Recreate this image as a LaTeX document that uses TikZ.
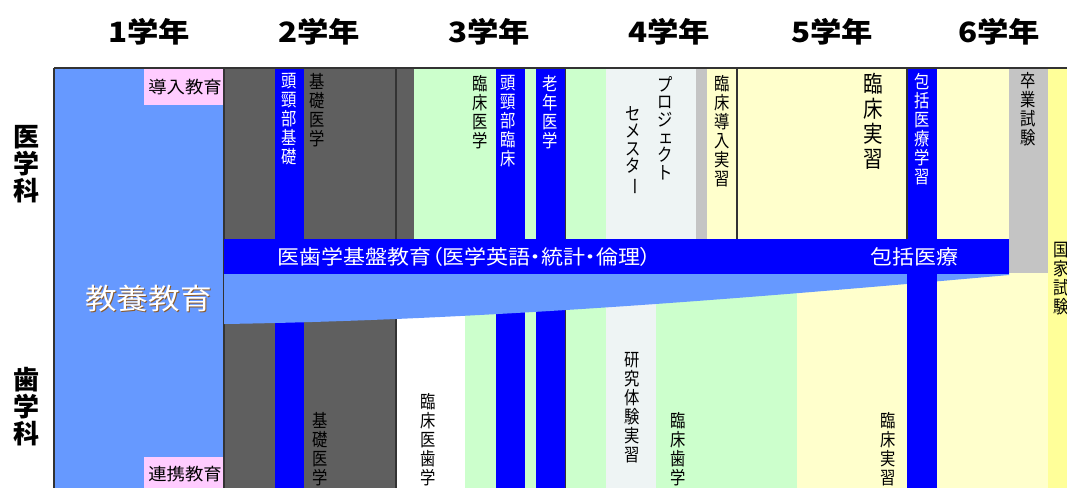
\documentclass[tikz,border=0pt]{standalone}
\usepackage{fontspec}
\usepackage{graphicx}
\setmainfont{Noto Sans CJK JP}
\newfontfamily\jpp[RawFeature=+palt]{Noto Sans CJK JP}
\newcommand{\choonv}{\rotatebox[origin=c]{-90}{ー}}
\newcommand{\smallev}{\hspace{3pt}ェ}
\newcommand{\vlab}[4]{\begin{scope}[shift={(#2)}]\node[#1, xscale=0.85, transform shape] (#3) at (0,0) {#4};\end{scope}}
\definecolor{lblue}{HTML}{6699FF}
\definecolor{pinkc}{HTML}{FFCCFF}
\definecolor{dgray}{HTML}{5F5F5F}
\definecolor{bblue}{HTML}{0000FF}
\definecolor{lgreen}{HTML}{CCFFCC}
\definecolor{pgray}{HTML}{EEF4F4}
\definecolor{mgray}{HTML}{C4C4C4}
\definecolor{lyellow}{HTML}{FFFFCC}
\definecolor{yellowc}{HTML}{FFFF99}
\definecolor{shadowc}{HTML}{8B5A2B}
\definecolor{linec}{HTML}{333333}
\tikzset{
  vt/.style={anchor=north, align=center, inner sep=0pt, font=\fontsize{18}{19}\selectfont},
  vtw/.style={vt, text=white},
  vtk/.style={vt, font=\fontsize{18}{17.6}\selectfont},
  vtbig/.style={vt, font=\fontsize{23}{25}\selectfont},
  hlab/.style={inner sep=0pt, font=\fontsize{17}{18}\selectfont},
  hdr/.style={inner sep=0pt, font=\fontsize{28}{30}\selectfont\bfseries},
  dept/.style={anchor=north, align=center, inner sep=0pt, font=\fontsize{26}{27}\selectfont\bfseries},
  frame/.style={draw=linec, line width=1.5pt},
  sep/.style={draw=linec, line width=1.6pt},
}
\begin{document}
\begin{tikzpicture}[x=1pt,y=-1pt]
\useasboundingbox (0,0) rectangle (1067,488);
\clip (0,0) rectangle (1067,488);
\fill[white] (0,0) rectangle (1067,488);
% left block
\fill[lblue] (54,68) rectangle (224,488);
% upper columns
\fill[dgray] (224,68) rectangle (414,290);
\fill[bblue] (275,68) rectangle (304,290);
\fill[lgreen] (414,68) rectangle (606,290);
\fill[bblue] (496,68) rectangle (525,290);
\fill[bblue] (536,68) rectangle (565,290);
\fill[pgray] (606,68) rectangle (696,290);
\fill[mgray] (696,68) rectangle (707,290);
\fill[lyellow] (707,68) rectangle (1009,290);
\fill[mgray] (1009,68) rectangle (1048,273);
% lower columns
\fill[dgray] (224,290) rectangle (396,488);
\fill[bblue] (275,290) rectangle (304,488);
\fill[white] (396,290) rectangle (465,488);
\fill[lgreen] (465,290) rectangle (606,488);
\fill[bblue] (496,290) rectangle (525,488);
\fill[bblue] (536,290) rectangle (565,488);
\fill[pgray] (606,290) rectangle (656,488);
\fill[lgreen] (656,290) rectangle (797,488);
\fill[lyellow] (797,290) rectangle (1009,488);
\fill[lyellow] (1009,273) rectangle (1048,488);
\fill[yellowc] (1048,68) rectangle (1067,488);
% pink boxes
\fill[pinkc] (144,68) rectangle (224,105);
\fill[pinkc] (144,457) rectangle (224,488);
% separators
\draw[sep] (224,68) -- (224,488);
\draw[sep] (396,68) -- (396,488);
\draw[sep] (565.5,68) -- (565.5,488);
\draw[sep] (737,68) -- (737,239);
% wedge of 教養教育
\fill[lblue] (224,239) -- (1009,239) -- (1009,275)
  .. controls (750,298) and (486,320) .. (224,324) -- cycle;
% 包括医療 stripe and band
\fill[bblue] (907,68) rectangle (937,488);
\draw[sep] (907,68) -- (907,239);
\fill[bblue] (224,239) rectangle (1009,274);
% frame
\draw[frame] (54,68) -- (1067,68);
\draw[frame] (54,68) -- (54,488);
% headers
\node[hdr] (y1) at (149,32) {\scalebox{1.12}[1]{1学年}};
\node[hdr] (y2) at (319,32) {\scalebox{1.12}[1]{2学年}};
\node[hdr] (y3) at (489,32) {\scalebox{1.12}[1]{3学年}};
\node[hdr] (y4) at (669,32) {\scalebox{1.12}[1]{4学年}};
\node[hdr] (y5) at (832,32) {\scalebox{1.12}[1]{5学年}};
\node[hdr] (y6) at (999,32) {\scalebox{1.12}[1]{6学年}};
\node[dept] (med) at (26,125) {医\\学\\科};
\node[dept] (dent) at (26,367) {歯\\学\\科};
% upper texts
\node[hlab] (dounyu) at (185,87) {\scalebox{1.08}[1]{導入教育}};
\vlab{vtw}{289,73}{tkb}{頭\\頸\\部\\基\\礎}
\vlab{vt}{317,73}{kiso1}{基\\礎\\医\\学}
\vlab{vt}{480,75}{rinsho1}{臨\\床\\医\\学}
\vlab{vtw}{508,75}{tkr}{頭\\頸\\部\\臨\\床}
\vlab{vtw}{550,75}{rounen}{老\\年\\医\\学}
\vlab{vtk}{665,76}{proj}{プ\\ロ\\ジ\\\smallev\\ク\\ト}
\vlab{vtk}{633,106}{seme}{セ\\メ\\ス\\タ\\\choonv}
\vlab{vt}{722,75}{rdj}{臨\\床\\導\\入\\実\\習}
\vlab{vtbig}{873,73}{rj1}{臨\\床\\実\\習}
\vlab{vtw}{922,73}{hog}{包\\括\\医\\療\\学\\習}
\vlab{vt}{1028,72}{sotsu}{卒\\業\\試\\験}
\vlab{vt}{1061,242}{kokka}{国\\家\\試\\験}
\node[anchor=west, inner sep=0pt, text=white, font=\fontsize{20}{22}\jpp] (kiban) at (277,257) {\scalebox{1.1}[1]{医歯学基盤教育（医学英語・統計・倫理）}};
\node[anchor=west, inner sep=0pt, text=white, font=\fontsize{20}{22}\selectfont] (hogi) at (870,257) {\scalebox{1.1}[1]{包括医療}};
\node[inner sep=0pt, text=shadowc, font=\fontsize{29}{31}\selectfont] (kyos) at (149.5,299.5) {\scalebox{1.09}[1]{教養教育}};
\node[inner sep=0pt, text=white, font=\fontsize{29}{31}\selectfont] (kyo) at (148.5,298.5) {\scalebox{1.09}[1]{教養教育}};
% lower texts
\vlab{vt}{320,412}{kiso2}{基\\礎\\医\\学}
\node[hlab] (renkei) at (185,474) {\scalebox{1.08}[1]{連携教育}};
\vlab{vt}{428,393}{rids}{臨\\床\\医\\歯\\学}
\vlab{vt}{632,352}{kenkyu}{研\\究\\体\\験\\実\\習}
\vlab{vt}{678,412}{rsh}{臨\\床\\歯\\学}
\vlab{vt}{888,412}{rj2}{臨\\床\\実\\習}
\end{tikzpicture}
\end{document}
